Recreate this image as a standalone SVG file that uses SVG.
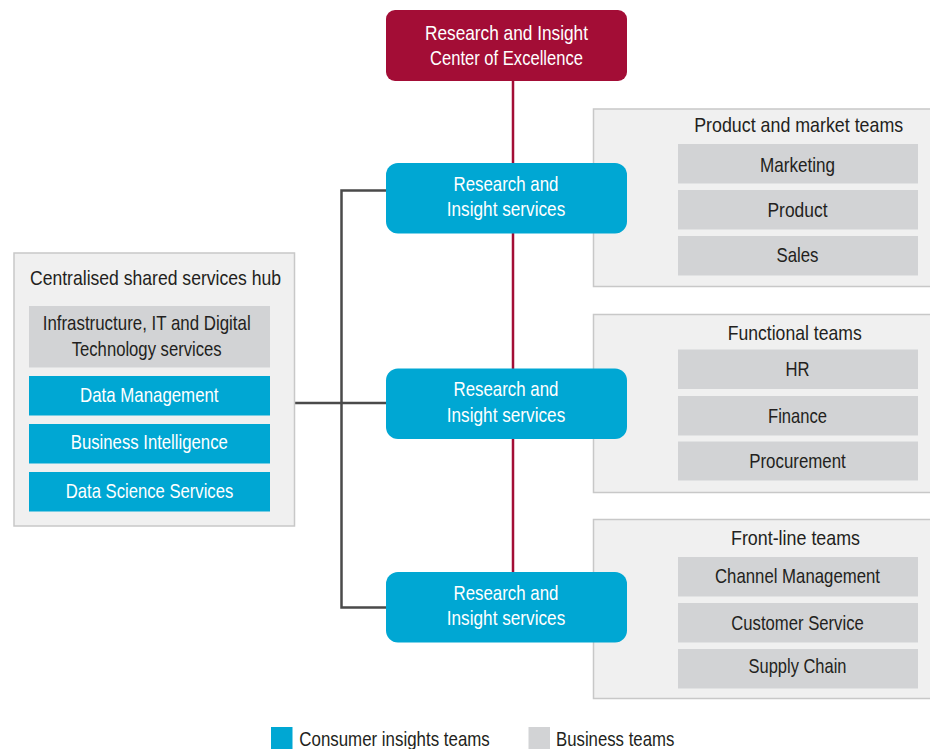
<svg xmlns="http://www.w3.org/2000/svg" width="930" height="749" viewBox="0 0 930 749">
<style>
text{font-family:"Liberation Sans",Arial,sans-serif;font-size:21px;text-anchor:middle}
.w{fill:#ffffff}
.d{fill:#231F20}
.red{fill:#A30D36}
.blue{fill:#00A7D3}
.gray{fill:#D2D3D5}
.panel{fill:#F0F0F0;stroke:#C8C8C8;stroke-width:1.5}
.conn{stroke:#4A4A4A;stroke-width:2.5;fill:none}
.rconn{stroke:#A30D36;stroke-width:2.5;fill:none}
.lg{text-anchor:start}
</style>
<g id="product-market">
<rect class="panel" x="593.5" y="109" width="337.5" height="177.5"/>
<text class="d" x="798.7" y="131.5" textLength="209" lengthAdjust="spacingAndGlyphs">Product and market teams</text>
<rect class="gray" x="678" y="144" width="240" height="39.5"/>
<text class="d" x="797.5" y="171.5" textLength="75" lengthAdjust="spacingAndGlyphs">Marketing</text>
<rect class="gray" x="678" y="190" width="240" height="39.5"/>
<text class="d" x="797.5" y="216.5" textLength="60" lengthAdjust="spacingAndGlyphs">Product</text>
<rect class="gray" x="678" y="236" width="240" height="39.5"/>
<text class="d" x="797.5" y="261.5" textLength="42" lengthAdjust="spacingAndGlyphs">Sales</text>
</g>
<g id="functional">
<rect class="panel" x="593.5" y="314.5" width="337.5" height="178"/>
<text class="d" x="794.7" y="339.5" textLength="134" lengthAdjust="spacingAndGlyphs">Functional teams</text>
<rect class="gray" x="678" y="349.5" width="240" height="39.5"/>
<text class="d" x="797.5" y="376" textLength="24" lengthAdjust="spacingAndGlyphs">HR</text>
<rect class="gray" x="678" y="396" width="240" height="39.5"/>
<text class="d" x="797.5" y="423" textLength="59" lengthAdjust="spacingAndGlyphs">Finance</text>
<rect class="gray" x="678" y="441.5" width="240" height="39"/>
<text class="d" x="797.5" y="467.5" textLength="96.5" lengthAdjust="spacingAndGlyphs">Procurement</text>
</g>
<g id="front-line">
<rect class="panel" x="593.5" y="519.5" width="337.5" height="179"/>
<text class="d" x="795.5" y="544.5" textLength="129" lengthAdjust="spacingAndGlyphs">Front-line teams</text>
<rect class="gray" x="678" y="557" width="240" height="39.5"/>
<text class="d" x="797.5" y="582.5" textLength="165" lengthAdjust="spacingAndGlyphs">Channel Management</text>
<rect class="gray" x="678" y="603" width="240" height="39.5"/>
<text class="d" x="797.5" y="629.5" textLength="132.5" lengthAdjust="spacingAndGlyphs">Customer Service</text>
<rect class="gray" x="678" y="649" width="240" height="39.5"/>
<text class="d" x="797.5" y="672.5" textLength="98" lengthAdjust="spacingAndGlyphs">Supply Chain</text>
</g>
<g id="connectors">
<line class="rconn" x1="513" y1="80" x2="513" y2="572"/>
<polyline class="conn" points="386,190.5 341.5,190.5 341.5,607.5 386,607.5"/>
<line class="conn" x1="294" y1="403" x2="386" y2="403"/>
</g>
<g id="coe">
<rect class="red" x="386" y="10" width="241" height="71" rx="9"/>
<text class="w" x="506.5" y="40" textLength="163" lengthAdjust="spacingAndGlyphs">Research and Insight</text>
<text class="w" x="506.5" y="65" textLength="153" lengthAdjust="spacingAndGlyphs">Center of Excellence</text>
</g>
<g id="ris1">
<rect class="blue" x="386" y="163" width="241" height="70.5" rx="12"/>
<text class="w" x="506" y="190.5" textLength="105" lengthAdjust="spacingAndGlyphs">Research and</text>
<text class="w" x="506" y="216" textLength="118.5" lengthAdjust="spacingAndGlyphs">Insight services</text>
</g>
<g id="ris2">
<rect class="blue" x="386" y="368.5" width="241" height="70.5" rx="12"/>
<text class="w" x="506" y="396" textLength="105" lengthAdjust="spacingAndGlyphs">Research and</text>
<text class="w" x="506" y="421.5" textLength="118.5" lengthAdjust="spacingAndGlyphs">Insight services</text>
</g>
<g id="ris3">
<rect class="blue" x="386" y="572" width="241" height="70.5" rx="12"/>
<text class="w" x="506" y="599.5" textLength="105" lengthAdjust="spacingAndGlyphs">Research and</text>
<text class="w" x="506" y="625" textLength="118.5" lengthAdjust="spacingAndGlyphs">Insight services</text>
</g>
<g id="hub">
<rect class="panel" x="14" y="253" width="280.5" height="273"/>
<text class="d" x="155.5" y="285" textLength="251" lengthAdjust="spacingAndGlyphs">Centralised shared services hub</text>
<rect class="gray" x="29" y="306" width="241" height="61.5"/>
<text class="d" x="146.7" y="330" textLength="208" lengthAdjust="spacingAndGlyphs">Infrastructure, IT and Digital</text>
<text class="d" x="146.7" y="355.5" textLength="150" lengthAdjust="spacingAndGlyphs">Technology services</text>
<rect class="blue" x="29" y="376" width="241" height="39.5"/>
<text class="w" x="149.3" y="401.5" textLength="138.5" lengthAdjust="spacingAndGlyphs">Data Management</text>
<rect class="blue" x="29" y="424" width="241" height="39.5"/>
<text class="w" x="149.3" y="448.5" textLength="157" lengthAdjust="spacingAndGlyphs">Business Intelligence</text>
<rect class="blue" x="29" y="472" width="241" height="39.5"/>
<text class="w" x="149.5" y="497.5" textLength="167.5" lengthAdjust="spacingAndGlyphs">Data Science Services</text>
</g>
<g id="legend">
<rect class="blue" x="271" y="727" width="21.5" height="22"/>
<text class="d lg" x="299.3" y="746" textLength="190.5" lengthAdjust="spacingAndGlyphs">Consumer insights teams</text>
<rect class="gray" x="528.5" y="727" width="21.5" height="22"/>
<text class="d lg" x="556" y="746" textLength="118.3" lengthAdjust="spacingAndGlyphs">Business teams</text>
</g>
</svg>
